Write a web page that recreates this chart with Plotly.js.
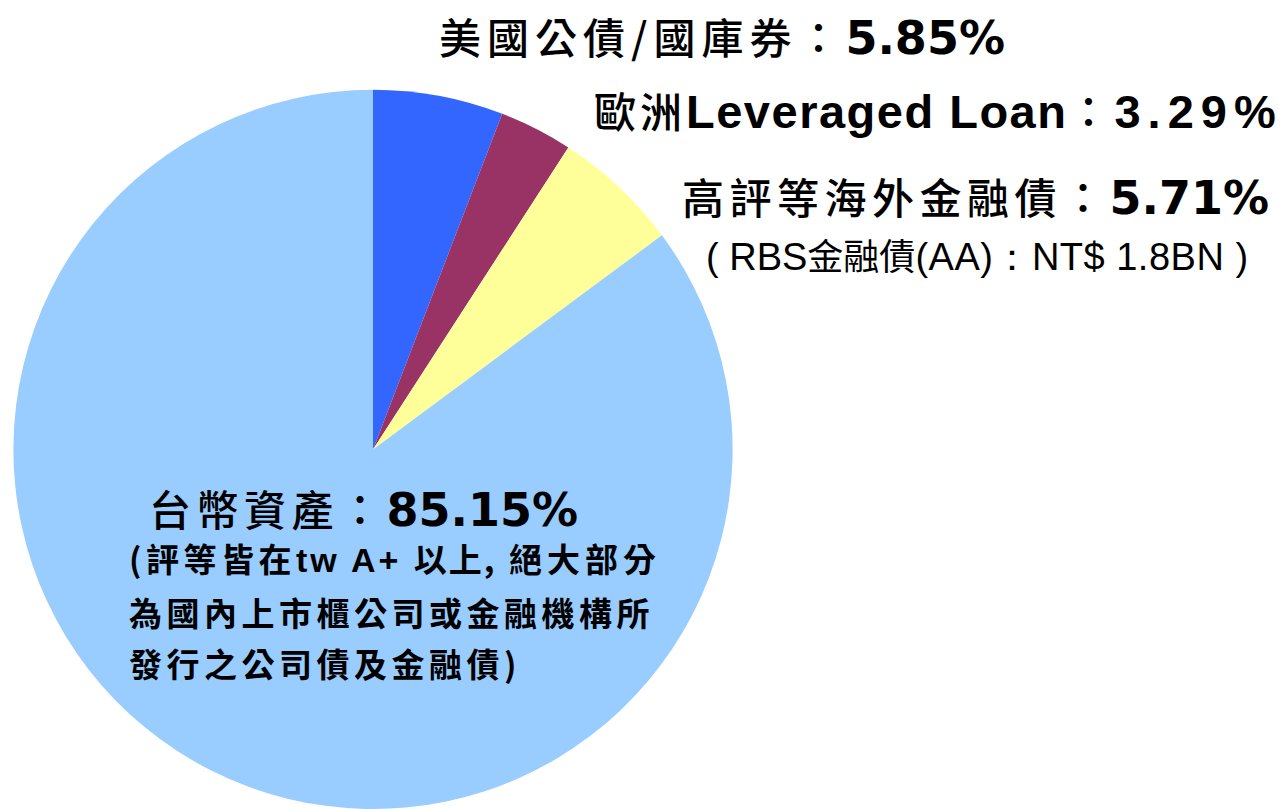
<!DOCTYPE html>
<html>
<head>
<meta charset="utf-8">
<script src="https://cdn.plot.ly/plotly-3.0.1.min.js"></script>
<style>html,body{margin:0;padding:0;background:#fff;}#chart{width:1287px;height:809px;}</style>
</head>
<body>
<div id="chart"></div>
<script>
const categories = ["美國公債/國庫券", "歐洲Leveraged Loan", "高評等海外金融債", "台幣資產"];
const shares = [5.85, 3.29, 5.71, 85.15];
const colors = ["#3366FF", "#993366", "#FFFF99", "#99CCFF"];
const noteLines = ["(評等皆在tw A+ 以上, 絕大部分", "為國內上市櫃公司或金融機構所", "發行之公司債及金融債)"];
const rbsNote = ["( RBS", "金融債", "(AA)：NT$ 1.8BN )"];

const W = 1287, H = 809;
const px = x => x / W;
const py = y => 1 - y / H;
const fmt = v => v.toFixed(2) + "%";

const CJK = "Noto Sans CJK TC";
const cjk = (t, size, ls, weight) =>
  `<span style="font-family:'${CJK}';font-size:${size}px;letter-spacing:${ls}px;font-weight:${weight || 500}">${t}</span>`;
const digits = (t, size) =>
  `<span style="font-family:'DejaVu Sans';font-size:${size}px;font-weight:bold">${t}</span>`;
const latin = (t, size, ls, weight) =>
  `<span style="font-family:'Liberation Sans';font-size:${size}px;letter-spacing:${ls}px;font-weight:${weight}">${t}</span>`;

const annotations = [
  {x: px(437), y: py(36), text: cjk(categories[0] + "：", 42, 6) + digits(fmt(shares[0]), 46)},
  {x: px(592), y: py(109), text: cjk("歐洲", 42, 4) +
     latin("Leveraged Loan", 47, 1.5, "bold") + cjk("：", 42, 5) + latin(fmt(shares[1]), 47, 7, "bold")},
  {x: px(680), y: py(196), text: cjk(categories[2] + "：", 42, 5.5) + digits(fmt(shares[2]), 46)},
  {x: px(704), y: py(254), text:
     latin(rbsNote[0], 38, 0, "normal") + cjk(rbsNote[1], 36, 0, 400) + latin(rbsNote[2], 38, 0.5, "normal")},
  {x: px(147), y: py(507), text: cjk(categories[3] + "：", 42, 5.5) + digits(fmt(shares[3]), 46)}
];
const noteParts = [
  cjk("(評等皆在", 33, 4.5, 700) + latin("tw A+ ", 34, 3, "bold") + cjk("以上,", 33, 2, 700) + cjk(" 絕大部分", 33, 5, 700),
  cjk(noteLines[1], 33, 4.5, 700),
  cjk(noteLines[2], 33, 4.5, 700)
];
noteParts.forEach((t, i) => {
  annotations.push({x: px(127), y: py([558, 612, 663][i]), text: t});
});
annotations.forEach(a => {
  a.xref = "paper"; a.yref = "paper"; a.xanchor = "left"; a.yanchor = "middle";
  a.showarrow = false;
  a.font = {family: "Liberation Sans, " + CJK, size: 40, color: "#000"};
});

const data = [{
  type: "pie",
  labels: categories,
  values: shares,
  sort: false,
  direction: "clockwise",
  rotation: 0,
  textinfo: "none",
  hoverinfo: "none",
  marker: {colors: colors, line: {width: 0}},
  domain: {x: [12 / W, 734 / W], y: [0, 0.889]}
}];

const layout = {
  width: W, height: H,
  margin: {l: 0, r: 0, t: 0, b: 0},
  paper_bgcolor: "#fff",
  showlegend: false,
  annotations: annotations
};

Plotly.newPlot("chart", data, layout, {displayModeBar: false, staticPlot: true});
</script>
</body>
</html>
